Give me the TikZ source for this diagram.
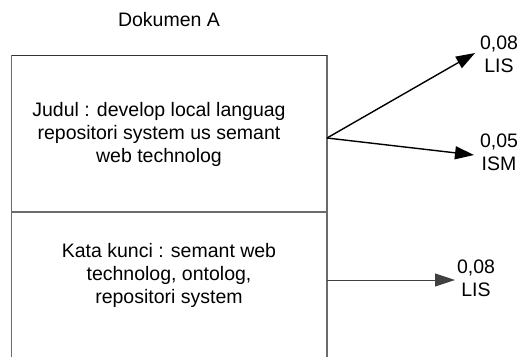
\documentclass[tikz,border=0pt]{standalone}
\usepackage{fontspec}
\setmainfont{Liberation Sans}
\usetikzlibrary{arrows.meta}
\begin{document}
\begin{tikzpicture}[x=1bp,y=-1bp,
  every node/.style={font=\fontsize{19.5bp}{23bp}\selectfont, inner sep=0pt, align=center},
  frame/.style={draw=black!58, line width=1.5bp},
  topline/.style={draw=black!80, line width=1bp},
  arr/.style={draw=black, line width=1.4bp, -{Triangle[length=19bp,width=13bp]}},
  arrthin/.style={draw=black!75, line width=1bp, -{Triangle[length=20bp,width=13bp]}}]
\useasboundingbox (0,0) rectangle (519,356);
% box frame
\coordinate (bl) at (11.7,357);
\coordinate (tl) at (11.7,55);
\coordinate (tr) at (327,55);
\coordinate (br) at (327,357);
\coordinate (ml) at (11.7,212);
\coordinate (mr) at (327,212);
\draw[frame] (bl) -- (tl);
\draw[frame] (tr) -- (br);
\draw[topline] (tl) -- (tr);
\draw[frame] (ml) -- (mr);
% texts
\node[anchor=base] (title) at (169,26) {Dokumen A};
\node (judul) at (159,134.5) {Judul : develop local languag\\repositori system us semant\\web technolog};
\node (kata) at (169,275) {Kata kunci : semant web\\technolog, ontolog,\\repositori system};
% labels
\node (l1) at (499,54) {0,08\\LIS};
\node (l2) at (499,152) {0,05\\ISM};
\node (l3) at (476,278) {0,08\\LIS};
% arrows
\coordinate (s1) at (327,138);
\coordinate (t1) at (475,53);
\coordinate (t2) at (474,155);
\coordinate (s3) at (327,280);
\coordinate (t3) at (455,280);
\draw[arr] (s1) -- (t1);
\draw[arr] (s1) -- (t2);
\draw[arrthin] (s3) -- (t3);
\end{tikzpicture}
\end{document}
